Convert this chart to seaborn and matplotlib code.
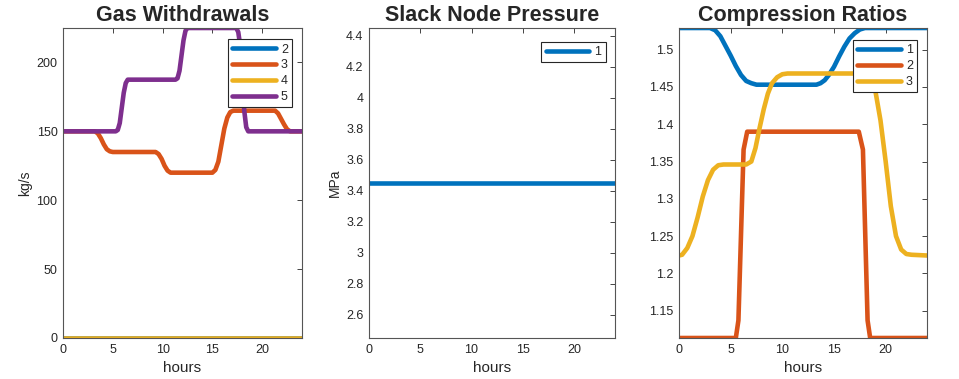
import pandas as pd
import numpy as np
import matplotlib
matplotlib.use("Agg")
import matplotlib.pyplot as plt
import seaborn as sns

# Gas withdrawals (kg/s), breakpoints
gw2_h = [0, 24]
gw2_v = [0, 0]
gw3_h = [0, 3.2, 3.5, 3.8, 4.1, 4.4, 4.7, 5.0, 9.3, 9.6, 9.9, 10.2, 10.5, 10.8,
         15.0, 15.3, 15.6, 15.9, 16.2, 16.5, 16.8, 17.1, 21.3, 21.6, 21.9, 22.2,
         22.5, 22.8, 24]
gw3_v = [150, 150, 148.5, 145, 140.5, 137, 135.5, 135, 135, 133.5, 130, 125, 121.5, 120,
         120, 122, 128, 140, 152, 160, 164, 165, 165, 163, 159, 155,
         151.5, 150, 150]
gw4_h = [0, 24]
gw4_v = [0, 0]
gw5_h = [0, 5.3, 5.5, 5.7, 5.9, 6.1, 6.3, 6.5, 11.3, 11.5, 11.7, 11.9, 12.1, 12.3,
         12.5, 17.4, 17.6, 17.8, 18.0, 18.2, 18.4, 18.6, 24]
gw5_v = [150, 150, 151, 156, 167, 178, 185, 187.5, 187.5, 188.5, 194, 205, 216, 223,
         225, 225, 222, 212, 190, 165, 153, 150, 150]

# Slack node pressure (MPa)
sp1_h = [0, 24]
sp1_v = [3.45, 3.45]

# Compression ratios
cr1_h = [0, 3.0, 3.5, 4.0, 4.5, 5.0, 5.5, 6.0, 6.5, 7.0, 7.5, 13.3, 13.7, 14.1, 14.5,
         15.0, 15.5, 16.0, 16.5, 17.0, 17.5, 18.0, 24]
cr1_v = [1.529, 1.529, 1.526, 1.518, 1.505, 1.492, 1.478, 1.466, 1.458, 1.455, 1.453,
         1.453, 1.455, 1.459, 1.466, 1.477, 1.491, 1.504, 1.515, 1.522, 1.527, 1.529, 1.529]
cr2_h = [0, 5.5, 5.75, 6.25, 6.6, 17.4, 17.8, 18.25, 18.5, 24]
cr2_v = [1.1134, 1.1134, 1.137, 1.366, 1.39, 1.39, 1.366, 1.137, 1.1134, 1.1134]
cr3_h = [0, 0.3, 0.8, 1.3, 1.8, 2.3, 2.8, 3.3, 3.8, 4.3, 6.5, 7.0, 7.4, 7.8, 8.2,
         8.6, 9.0, 9.5, 10.0, 10.5, 18.2, 18.6, 19.0, 19.5, 20.0, 20.5, 21.0,
         21.5, 22.0, 22.5, 24]
cr3_v = [1.224, 1.225, 1.234, 1.250, 1.275, 1.303, 1.325, 1.339, 1.345, 1.346, 1.346,
         1.350, 1.368, 1.395, 1.420, 1.441, 1.455, 1.463, 1.467, 1.468, 1.468, 1.463,
         1.445, 1.405, 1.350, 1.290, 1.250, 1.232, 1.226, 1.225, 1.224]

mat_colors = ["#0072BD", "#D95319", "#EDB120", "#7E2F8E"]
ink = "#262626"


def long_df(series):
    parts = []
    for name, h, v in series:
        parts.append(pd.DataFrame({"hours": h, "value": v, "id": name}))
    return pd.concat(parts, ignore_index=True)


sns.set_style("white")
plt.rcParams["font.family"] = ["Liberation Sans", "DejaVu Sans"]
plt.rcParams["axes.edgecolor"] = ink
plt.rcParams["xtick.color"] = ink
plt.rcParams["ytick.color"] = ink

fig = plt.figure(figsize=(9.59, 3.79), dpi=100)
W, H = 959, 379
boxes = [(63, 302), (369, 615), (679, 927)]
axes = [fig.add_axes([l / W, (H - 338) / H, (r - l) / W, 310 / H]) for l, r in boxes]

panels = [
    ("Gas Withdrawals", "kg/s",
     [("2", gw2_h, gw2_v), ("3", gw3_h, gw3_v), ("4", gw4_h, gw4_v), ("5", gw5_h, gw5_v)],
     (0, 225), [0, 50, 100, 150, 200], None, (0.959, 0.9635)),
    ("Slack Node Pressure", "MPa",
     [("1", sp1_h, sp1_v)],
     (2.45, 4.45), [2.6, 2.8, 3.0, 3.2, 3.4, 3.6, 3.8, 4.0, 4.2, 4.4],
     ["2.6", "2.8", "3", "3.2", "3.4", "3.6", "3.8", "4", "4.2", "4.4"], (0.962, 0.956)),
    ("Compression Ratios", None,
     [("1", cr1_h, cr1_v), ("2", cr2_h, cr2_v), ("3", cr3_h, cr3_v)],
     (1.1134, 1.529), [1.15, 1.2, 1.25, 1.3, 1.35, 1.4, 1.45, 1.5],
     ["1.15", "1.2", "1.25", "1.3", "1.35", "1.4", "1.45", "1.5"], (0.961, 0.961)),
]

for ax, (title, ylab, series, ylim, yt, ytl, anchor) in zip(axes, panels):
    df = long_df(series)
    names = [s[0] for s in series]
    sns.lineplot(data=df, x="hours", y="value", hue="id", hue_order=names,
                 palette=mat_colors[:len(names)], linewidth=3.3, ax=ax,
                 estimator=None, sort=False)
    ax.set_xlim(0, 24)
    ax.set_ylim(*ylim)
    ax.set_xticks([0, 5, 10, 15, 20])
    ax.set_yticks(yt)
    if ytl:
        ax.set_yticklabels(ytl)
    ax.tick_params(direction="in", length=3.5, width=0.6, labelsize=9,
                   top=True, right=True, pad=4, labelcolor=ink)
    for sp in ax.spines.values():
        sp.set_visible(True)
        sp.set_linewidth(0.8)
        sp.set_color("#555555")
    ax.set_title(title, fontsize=15.5, fontweight="bold", pad=5)
    ax.set_xlabel("hours", fontsize=11, color=ink, labelpad=4)
    ax.set_ylabel(ylab if ylab else "", fontsize=10, color=ink, labelpad=3)
    leg = ax.legend(loc="upper right", bbox_to_anchor=anchor, borderaxespad=0,
                    fontsize=9, handlelength=3.5, handletextpad=0.4,
                    labelspacing=0.3, borderpad=0.35, fancybox=False,
                    framealpha=1, edgecolor=ink)
    leg.get_frame().set_linewidth(0.8)
    for ln in leg.get_lines():
        ln.set_linewidth(3.3)

fig.savefig("out.png", dpi=100)
